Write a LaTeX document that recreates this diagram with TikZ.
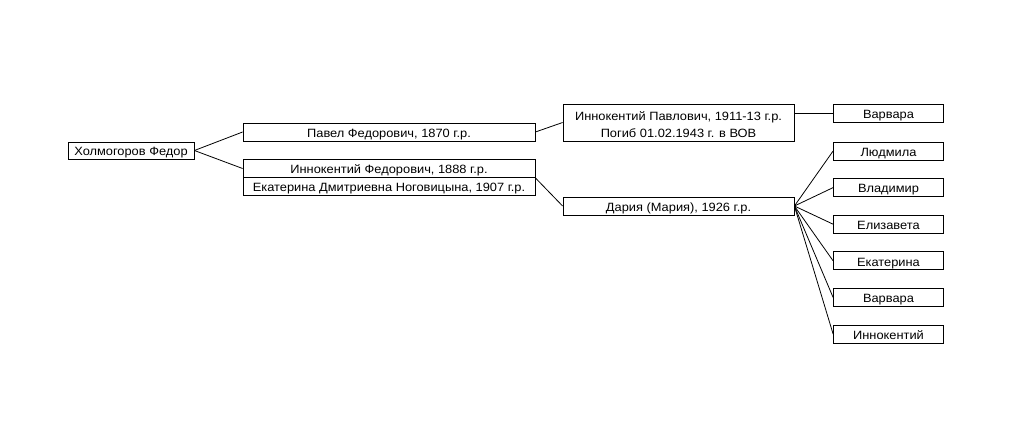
\documentclass[tikz,border=0pt]{standalone}
\usepackage{fontspec}
\setmainfont{Liberation Sans}[FakeStretch=1.07]
\usetikzlibrary{positioning}

\begin{document}
\begin{tikzpicture}[
    x=1pt, y=-1pt,
    node distance=0pt and 0pt,
    person/.style = {rectangle, draw, line width=0.8pt, inner sep=0pt, minimum height=18pt, text height=10.5pt, text depth=0pt, font=\fontsize{12}{17}\selectfont, fill=white},
    child/.style = {person, minimum width=110pt},
    link/.style = {draw, line width=0.8pt}]

    \useasboundingbox (0,0) rectangle (1029,429);

    \node[person, minimum width=126pt, minimum height=17pt] (root) at (131,150.5) {Холмогоров Федор};
    \node[person, minimum width=292pt] (pavel) at (389,132) {Павел Федорович, 1870 г.р.};
    \node[person, minimum width=292pt] (innF) at (389,168.5) {Иннокентий Федорович, 1888 г.р.};
    \node[person, minimum width=292pt, below=-0.8pt of innF] (ekat) {Екатерина Дмитриевна Ноговицына, 1907 г.р.};
    \node[person, minimum width=231pt, minimum height=37pt, align=center, text height=30pt] (innP) at (678.5,122.5) {Иннокентий Павлович, 1911-13 г.р.\\Погиб 01.02.1943 г. в ВОВ};
    \node[person, minimum width=231pt] (daria) at (678.5,206) {Дария (Мария), 1926 г.р.};
    \node[child] (varvA) at (888.5,113) {Варвара};

    % дети Дарии
    \node[child] (ludm) at (888.5,151) {Людмила};
    \node[child, below=17.8pt of ludm] (vlad) {Владимир};
    \node[child, below=17.8pt of vlad] (eliz) {Елизавета};
    \node[child, below=17.8pt of eliz] (ekt) {Екатерина};
    \node[child, below=17.8pt of ekt] (varvB) {Варвара};
    \node[child, below=17.8pt of varvB] (innk) {Иннокентий};

    \draw[link] (root.east) -- (pavel.west);
    \draw[link] (root.east) -- (innF.west);
    \draw[link] (pavel.east) -- (innP.west);
    \draw[link] (innF.south east) -- (daria.west);
    \draw[link] (innP.east |- varvA.west) -- (varvA.west);
    \foreach \c in {ludm, vlad, eliz, ekt, varvB, innk}
        \draw[link] (daria.east) -- (\c.west);
\end{tikzpicture}
\end{document}
